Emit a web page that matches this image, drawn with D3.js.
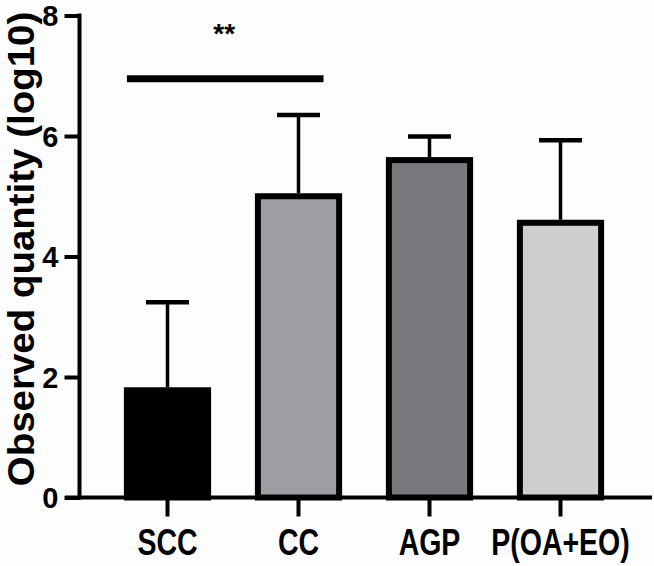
<!DOCTYPE html>
<html><head><meta charset="utf-8">
<script src="https://cdn.jsdelivr.net/npm/d3@7"></script>
<style>body{margin:0;background:#fdfdfd}svg{display:block}</style>
</head><body>
<script>
const categories = ["SCC", "CC", "AGP", "P(OA+EO)"];
const means = [1.78, 5.0, 5.6, 4.56];
const errorTops = [3.24, 6.35, 5.99, 5.93];
const fills = ["#000000", "#9e9ea2", "#79797d", "#cececf"];
const yTicks = [0, 2, 4, 6, 8];
const yTitle = "Observed quantity (log10)";
const sigLabel = "**";
const sigLevel = 6.95;

const W = 654, H = 566;
const svg = d3.select("body").append("svg").attr("width", W).attr("height", H);
svg.append("rect").attr("width", W).attr("height", H).attr("fill", "#fdfdfd");

const y = d3.scaleLinear().domain([0, 8]).range([497.5, 15.5]);
const x = d3.scaleBand().domain(categories).range([102, 626]).paddingInner(0.38).paddingOuter(0.19);
const font = "'Liberation Sans', Arial, sans-serif";

// bars
const bw = x.bandwidth();
svg.selectAll("rect.bar").data(categories).enter().append("rect")
  .attr("class", "bar")
  .attr("x", d => x(d))
  .attr("y", (d, i) => y(means[i]))
  .attr("width", bw)
  .attr("height", (d, i) => y(0) - y(means[i]))
  .attr("fill", (d, i) => fills[i])
  .attr("stroke", "#000").attr("stroke-width", 6);

// error bars
const capW = 43;
categories.forEach((c, i) => {
  const cx = x(c) + bw / 2;
  svg.append("line").attr("x1", cx).attr("x2", cx)
    .attr("y1", y(means[i]) - 3).attr("y2", y(errorTops[i]))
    .attr("stroke", "#000").attr("stroke-width", 3.5);
  svg.append("line").attr("x1", cx - capW / 2).attr("x2", cx + capW / 2)
    .attr("y1", y(errorTops[i])).attr("y2", y(errorTops[i]))
    .attr("stroke", "#000").attr("stroke-width", 4.5);
});

// y axis
const yAxis = svg.append("g").attr("transform", "translate(79.5,0)")
  .call(d3.axisLeft(y).tickValues(yTicks).tickSize(15).tickPadding(6).tickFormat(d3.format("d")));
yAxis.select(".domain").attr("d", `M0,${y(8) - 2}V${y(0) + 2}`).attr("stroke", "#000").attr("stroke-width", 4);
yAxis.selectAll(".tick line").attr("stroke", "#000").attr("stroke-width", 4);
yAxis.selectAll(".tick text").attr("font-family", font).attr("font-weight", "bold")
  .attr("font-size", 29).attr("fill", "#000").attr("dy", "0.36em");

// x axis
const xAxis = svg.append("g").attr("transform", `translate(0,${y(0)})`)
  .call(d3.axisBottom(x).tickSize(19).tickPadding(0));
xAxis.select(".domain").attr("d", "M65,0H652").attr("stroke", "#000").attr("stroke-width", 4);
xAxis.selectAll(".tick line").attr("stroke", "#000").attr("stroke-width", 4);
xAxis.selectAll(".tick text").remove();
xAxis.selectAll(".tick").append("text")
  .attr("transform", "translate(0,57.5) scale(0.77,1)")
  .attr("text-anchor", "middle")
  .attr("font-family", font).attr("font-weight", "bold").attr("font-size", 37).attr("fill", "#000")
  .text(d => d);

// y title
svg.append("text")
  .attr("transform", `translate(33.8,${249}) rotate(-90) scale(1.04,1)`)
  .attr("text-anchor", "middle")
  .attr("font-family", font).attr("font-weight", "bold").attr("font-size", 37).attr("fill", "#000")
  .text(yTitle);

// significance
const sx1 = x(categories[0]), sx2 = x(categories[1]) + bw / 2 + 25;
svg.append("line").attr("x1", sx1).attr("x2", sx2).attr("y1", y(sigLevel)).attr("y2", y(sigLevel))
  .attr("stroke", "#000").attr("stroke-width", 7);
svg.append("text").attr("x", (sx1 + sx2) / 2 - 1).attr("y", y(sigLevel) - 36)
  .attr("text-anchor", "middle")
  .attr("font-family", font).attr("font-weight", "bold").attr("font-size", 28).attr("fill", "#000")
  .text(sigLabel);
</script>
</body></html>
